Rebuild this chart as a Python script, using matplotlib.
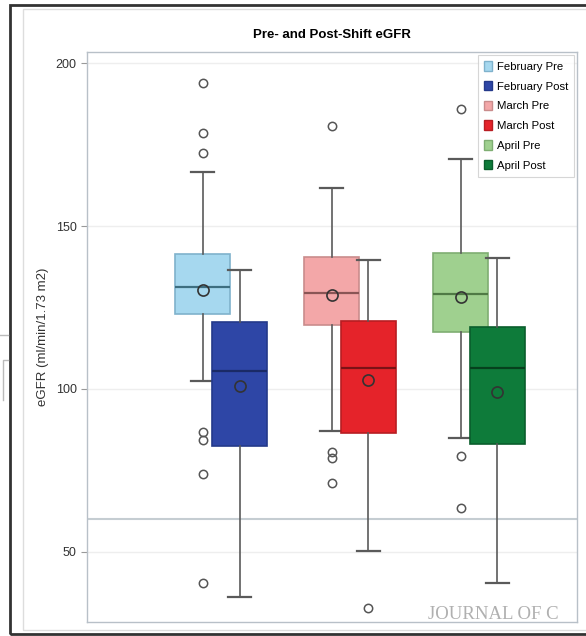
import numpy as np
import matplotlib
matplotlib.use("Agg")
from matplotlib import pyplot as plt
from matplotlib.patches import Patch, Rectangle
from matplotlib.lines import Line2D

plt.rcParams["font.family"] = ["Liberation Sans Narrow", "Liberation Sans", "DejaVu Sans"]

# Box statistics (eGFR, ml/min/1.73 m2)
groups = ["February", "March", "April"]
labels = ["February Pre", "February Post", "March Pre", "March Post", "April Pre", "April Post"]
q1 = [123, 82.5, 119.5, 86.5, 117.5, 83]
med = [131.3, 105.5, 129.5, 106.4, 129.1, 106.4]
q3 = [141.5, 120.5, 140.5, 121, 141.7, 119]
mean = [130.3, 101, 128.8, 102.8, 128.2, 99.1]
whislo = [102.5, 36.2, 87.1, 50.3, 85, 40.5]
whishi = [166.5, 136.5, 161.7, 139.6, 170.5, 140.2]
fliers = [
    [194, 178.5, 172.4, 86.8, 84.4, 74, 40.5],
    [],
    [180.7, 80.7, 78.9, 71],
    [32.8],
    [185.9, 79.5, 63.5],
    [],
]
fills = ["#a6d8ef", "#2e46a6", "#f3a7a8", "#e5232a", "#9fd08f", "#0e7b3a"]
edges = ["#7fb2cc", "#24398a", "#c98c8c", "#b81d22", "#7fae72", "#0a5e2c"]
meds = ["#3d6e80", "#1a2a66", "#8a5555", "#7a1216", "#4f7a45", "#06401d"]

fig = plt.figure(figsize=(5.86, 6.36), dpi=100)

# outer graph frame
fig.patches.append(Rectangle((10 / 586, 2 / 636), 0.99, 629 / 636, transform=fig.transFigure,
                             fill=False, edgecolor="#333333", linewidth=2.0))
fig.patches.append(Rectangle((23 / 586, 6 / 636), 0.98, 621 / 636, transform=fig.transFigure,
                             fill=False, edgecolor="#dddddd", linewidth=1.0))
# bits of the neighbouring panel at the left edge
fig.lines.append(Line2D([0, 8 / 586], [1 - 335 / 636, 1 - 335 / 636], transform=fig.transFigure,
                        color="#bbbbbb", linewidth=1.0))
fig.lines.append(Line2D([3 / 586, 3 / 586, 8 / 586], [1 - 400 / 636, 1 - 360 / 636, 1 - 360 / 636],
                        transform=fig.transFigure, color="#bbbbbb", linewidth=1.0))

ax = fig.add_axes([87 / 586, 14 / 636, 490 / 586, 570 / 636])

stats = []
for i in range(6):
    stats.append(dict(med=med[i], q1=q1[i], q3=q3[i], mean=mean[i],
                      whislo=whislo[i], whishi=whishi[i], fliers=fliers[i]))

positions = []
for g in range(3):
    positions += [g + 1 - 0.143, g + 1 + 0.143]

for i in range(6):
    ax.bxp([stats[i]], positions=[positions[i]], widths=0.426, patch_artist=True,
           showmeans=True, meanline=False,
           boxprops=dict(facecolor=fills[i], edgecolor=edges[i], linewidth=1.2),
           medianprops=dict(color=meds[i], linewidth=1.6),
           whiskerprops=dict(color="#5a5a5a", linewidth=1.2),
           capprops=dict(color="#5a5a5a", linewidth=1.6),
           capwidths=0.18,
           meanprops=dict(marker="o", markerfacecolor="none", markeredgecolor="#333333",
                          markersize=8, markeredgewidth=1.2),
           flierprops=dict(marker="o", markerfacecolor="none", markeredgecolor="#555555",
                           markersize=6, markeredgewidth=1.1))

ax.set_xlim(-0.04, 3.76)
ax.set_ylim(28.5, 203.4)
ax.set_xticks([])
ax.set_yticks([50, 100, 150, 200])
ax.tick_params(axis="y", colors="#999999", labelcolor="#333333", labelsize=9, length=4)
ax.grid(axis="y", color="#eeeeee", linewidth=1.0)
ax.set_axisbelow(True)
ax.axhline(60, color="#c5cdd2", linewidth=1.5, zorder=1)
for s in ax.spines.values():
    s.set_color("#b8c0c8")
    s.set_linewidth(1.0)

ax.set_ylabel("eGFR (ml/min/1.73 m2)", fontsize=9.5, color="#333333", labelpad=5)
ax.set_title("Pre- and Post-Shift eGFR", fontsize=9.5, fontweight="bold", pad=10)

handles = [Patch(facecolor=fills[i], edgecolor=edges[i], label=labels[i]) for i in range(6)]
leg = ax.legend(handles=handles, loc="upper right", fontsize=8.2, frameon=True,
                borderaxespad=0.25, handlelength=0.7, handleheight=0.9, handletextpad=0.4,
                labelspacing=0.8, fancybox=False, borderpad=0.55)
leg.get_frame().set_edgecolor("#cccccc")
leg.get_frame().set_linewidth(0.8)

fig.text(428 / 586, 13 / 636, "JOURNAL OF C", fontsize=13.5, color="#b0b0b0",
         family="Liberation Serif", va="bottom", ha="left")

fig.savefig("out.png", dpi=100)
